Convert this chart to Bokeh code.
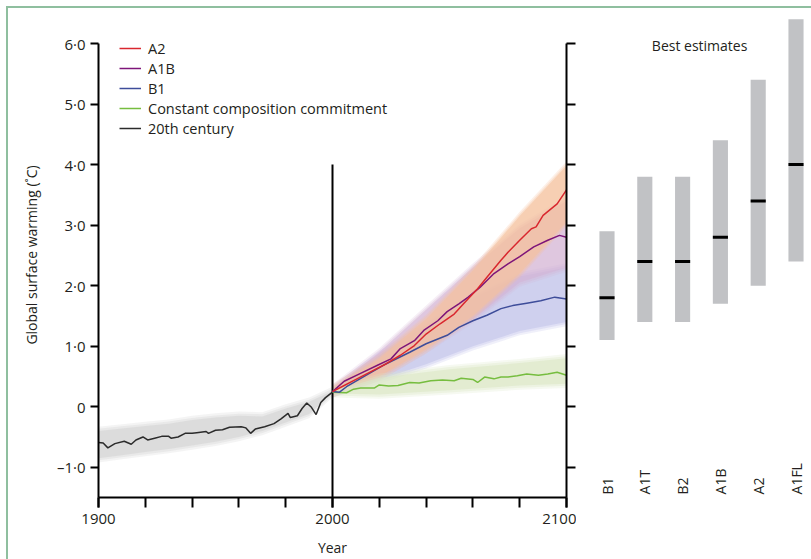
import numpy as np
from bokeh.plotting import figure
from bokeh.layouts import row
from bokeh.models import Range1d, FixedTicker, Legend, LegendItem, Label, LinearAxis
from bokeh.core.properties import value
from bokeh.embed import file_html
from bokeh.resources import INLINE

FONT = "Open Sans"
TEXT = "#231f20"

# ---------------- data ----------------
hist_years = [1900, 1902, 1904, 1907, 1911, 1914, 1916, 1919, 1921, 1924, 1927, 1930,
              1931, 1934, 1937, 1940, 1942, 1946, 1947, 1950, 1953, 1956, 1961, 1963,
              1965, 1967, 1971, 1975, 1978, 1981, 1982, 1985, 1987, 1989, 1991, 1993,
              1995, 1997, 2000]
hist_temp = [-0.59, -0.60, -0.68, -0.61, -0.57, -0.62, -0.55, -0.50, -0.55, -0.52, -0.49, -0.49,
             -0.52, -0.50, -0.44, -0.44, -0.43, -0.41, -0.44, -0.39, -0.38, -0.34, -0.33, -0.35,
             -0.44, -0.37, -0.33, -0.28, -0.20, -0.11, -0.18, -0.15, -0.03, 0.06, -0.01, -0.13,
             0.07, 0.15, 0.24]
hist_band_years = [1900, 1910, 1920, 1930, 1940, 1950, 1960, 1970, 1980, 1990, 2000]
hist_band_low = [-0.85, -0.80, -0.75, -0.70, -0.64, -0.58, -0.50, -0.40, -0.26, -0.12, 0.22]
hist_band_high = [-0.40, -0.36, -0.32, -0.28, -0.22, -0.18, -0.15, -0.16, -0.03, 0.08, 0.26]

a2_years = [2000, 2005, 2009, 2015, 2023, 2029, 2035, 2040, 2046, 2052, 2056, 2062,
            2066, 2072, 2075, 2080, 2085, 2087, 2090, 2096, 2100]
a2_temp = [0.25, 0.35, 0.43, 0.55, 0.71, 0.85, 1.01, 1.20, 1.37, 1.53, 1.70, 1.95,
           2.14, 2.42, 2.55, 2.75, 2.94, 2.97, 3.16, 3.35, 3.58]
a1b_years = [2000, 2005, 2012, 2019, 2025, 2029, 2035, 2039, 2045, 2049, 2054, 2058,
             2063, 2069, 2075, 2080, 2086, 2092, 2097, 2100]
a1b_temp = [0.25, 0.42, 0.55, 0.68, 0.79, 0.96, 1.09, 1.26, 1.42, 1.57, 1.70, 1.81,
            1.97, 2.20, 2.36, 2.48, 2.64, 2.75, 2.83, 2.80]
b1_years = [2000, 2003, 2006, 2013, 2023, 2033, 2040, 2049, 2054, 2060, 2066, 2072,
            2077, 2083, 2089, 2095, 2100]
b1_temp = [0.25, 0.24, 0.33, 0.49, 0.71, 0.90, 1.04, 1.18, 1.31, 1.42, 1.51, 1.62,
           1.67, 1.71, 1.75, 1.81, 1.78]
ccc_years = [2000, 2006, 2009, 2012, 2018, 2020, 2024, 2028, 2033, 2037, 2042, 2047,
             2052, 2055, 2060, 2062, 2065, 2069, 2072, 2075, 2079, 2083, 2088, 2092,
             2096, 2100]
ccc_temp = [0.24, 0.23, 0.29, 0.31, 0.31, 0.36, 0.34, 0.35, 0.40, 0.39, 0.43, 0.44,
            0.43, 0.47, 0.45, 0.40, 0.49, 0.46, 0.49, 0.49, 0.51, 0.54, 0.52, 0.54,
            0.57, 0.52]

band_years = [2000, 2020, 2040, 2060, 2080, 2100]
a2_low = [0.22, 0.50, 0.95, 1.50, 2.20, 3.05]
a2_high = [0.30, 0.80, 1.45, 2.25, 3.15, 3.98]
a1b_low = [0.22, 0.50, 0.95, 1.45, 2.05, 2.30]
a1b_high = [0.30, 0.90, 1.60, 2.30, 2.95, 3.40]
b1_low = [0.22, 0.45, 0.70, 1.00, 1.25, 1.40]
b1_high = [0.28, 0.85, 1.35, 1.80, 2.15, 2.30]
ccc_band_years = [2000, 2020, 2050, 2080, 2100]
ccc_low = [0.22, 0.20, 0.27, 0.35, 0.38]
ccc_high = [0.26, 0.48, 0.62, 0.72, 0.80]

categories = ["B1", "A1T", "B2", "A1B", "A2", "A1FL"]
best_est = [1.8, 2.4, 2.4, 2.8, 3.4, 4.0]
range_low = [1.1, 1.4, 1.4, 1.7, 2.0, 2.4]
range_high = [2.9, 3.8, 3.8, 4.4, 5.4, 6.4]

y_ticks = [-1, 0, 1, 2, 3, 4, 5, 6]
y_tick_labels = ["\u20131\u00b70", "0", "1\u00b70", "2\u00b70", "3\u00b70", "4\u00b70", "5\u00b70", "6\u00b70"]
x_ticks = [1900, 1920, 1940, 1960, 1980, 2000, 2020, 2040, 2060, 2080, 2100]
x_label_years = [1900, 2000, 2100]

# ---------------- layout constants ----------------
Y_MIN, Y_MAX = -1.5, 6.0          # extent of the drawn temperature axis
W1, H = 568, 551
FB_LEFT, FB_RIGHT, FB_TOP, FB_BOTTOM = 90, 10, 4, 62
AXIS_PX = 454                     # pixel length of the -1.5..6.0 axis
PX_PER_UNIT = AXIS_PX / (Y_MAX - Y_MIN)
FRAME_H = H - FB_TOP - FB_BOTTOM
y_end = Y_MIN + FRAME_H / PX_PER_UNIT
shared_y = Range1d(Y_MIN, y_end)

p = figure(width=W1, height=H, x_range=Range1d(1900, 2100), y_range=shared_y,
           output_backend="svg", toolbar_location=None, title_location=None,
           min_border_left=FB_LEFT, min_border_right=FB_RIGHT,
           min_border_top=FB_TOP, min_border_bottom=FB_BOTTOM,
           x_axis_location="below", y_axis_location="left")
p.outline_line_color = None
p.grid.visible = False
p.background_fill_color = None
p.border_fill_color = None


def soft_band(fig, xs, lo, hi, color, alpha):
    # feathered edges: a few translucent layers (style only)
    lo = np.asarray(lo)
    hi = np.asarray(hi)
    for pad, a in ((0.07, alpha * 0.25), (0.035, alpha * 0.35), (0.0, alpha * 0.6)):
        fig.varea(x=xs, y1=lo - pad, y2=hi + pad, fill_color=color, fill_alpha=a)


# bands
soft_band(p, band_years, b1_low, b1_high, "#c3c4ea", 1.0)
soft_band(p, band_years, a1b_low, a1b_high, "#d3b3d3", 0.85)
soft_band(p, band_years, a2_low, a2_high, "#f5c29f", 0.95)
soft_band(p, ccc_band_years, ccc_low, ccc_high, "#dce7c6", 1.0)
soft_band(p, hist_band_years, hist_band_low, hist_band_high, "#d3d3d3", 1.0)

# divider at 2000
divider_year, divider_top = 2000, 4.0
p.segment(x0=[divider_year], y0=[Y_MIN], x1=[divider_year], y1=[divider_top],
          line_color="black", line_width=2)

r_hist = p.line(hist_years, hist_temp, line_color="#2b2b2b", line_width=1.5)
r_ccc = p.line(ccc_years, ccc_temp, line_color="#76bd3f", line_width=1.5)
r_b1 = p.line(b1_years, b1_temp, line_color="#3e4d9a", line_width=1.5)
r_a1b = p.line(a1b_years, a1b_temp, line_color="#7e1579", line_width=1.5)
r_a2 = p.line(a2_years, a2_temp, line_color="#d9272e", line_width=1.5)


def style_axis(ax):
    ax.axis_line_color = "black"
    ax.axis_line_width = 2
    ax.major_tick_line_color = "black"
    ax.major_tick_line_width = 2
    ax.minor_tick_line_color = "black"
    ax.minor_tick_line_width = 2
    ax.major_tick_in = 0
    ax.minor_tick_in = 0
    ax.major_label_text_font = FONT
    ax.major_label_text_font_size = "15px"
    ax.major_label_text_color = TEXT
    ax.axis_label_text_font = FONT
    ax.axis_label_text_font_size = "14px"
    ax.axis_label_text_font_style = "normal"
    ax.axis_label_text_color = TEXT


xa = p.xaxis[0]
style_axis(xa)
xa.ticker = FixedTicker(ticks=x_label_years, minor_ticks=x_ticks)
xa.major_tick_out = 10
xa.minor_tick_out = 10
xa.major_label_standoff = 6
xa.axis_label = "Year"
xa.axis_label_standoff = 11

ya = p.yaxis[0]
style_axis(ya)
ya.ticker = FixedTicker(ticks=y_ticks)
ya.major_label_overrides = dict(zip(y_ticks, y_tick_labels))
ya.bounds = (Y_MIN, Y_MAX)
ya.major_tick_out = 8
ya.minor_tick_line_color = None
ya.major_label_standoff = 5
ya.axis_label = "Global surface warming (\u02daC)"
ya.axis_label_standoff = 13

ra = LinearAxis()
style_axis(ra)
ra.ticker = FixedTicker(ticks=[], minor_ticks=y_ticks)
ra.bounds = (Y_MIN, Y_MAX)
ra.minor_tick_out = 9
ra.major_label_standoff = 0
p.add_layout(ra, "right")

legend = Legend(items=[
    LegendItem(label="A2", renderers=[r_a2]),
    LegendItem(label="A1B", renderers=[r_a1b]),
    LegendItem(label="B1", renderers=[r_b1]),
    LegendItem(label="Constant composition commitment", renderers=[r_ccc]),
    LegendItem(label="20th century", renderers=[r_hist]),
], location=(21, 359))
legend.label_text_font = FONT
legend.label_text_font_size = "14.5px"
legend.label_text_color = TEXT
legend.glyph_width = 22
legend.glyph_height = 20
legend.label_height = 20
legend.label_standoff = 7
legend.spacing = 0
legend.padding = 0
legend.margin = 0
legend.border_line_color = None
legend.background_fill_alpha = 0
p.add_layout(legend)

# ---------------- best estimates panel ----------------
W2 = 811 - 8 - W1
BAR_PITCH = 37.8
first_center_offset = 30.5
x2_start = -first_center_offset / BAR_PITCH
x2_end = x2_start + W2 / BAR_PITCH

idx = list(range(len(categories)))
p2 = figure(width=W2, height=H, x_range=Range1d(x2_start, x2_end), y_range=shared_y,
            output_backend="svg", toolbar_location=None, title_location=None,
            min_border_left=0, min_border_right=0, min_border_top=FB_TOP, min_border_bottom=FB_BOTTOM,
            x_axis_location=None, y_axis_location=None)
p2.outline_line_color = None
p2.grid.visible = False
p2.background_fill_color = None
p2.border_fill_color = None

p2.vbar(x=idx, bottom=range_low, top=range_high, width=0.4, fill_color="#c1c2c5", line_color=None)
p2.rect(x=idx, y=best_est, width=0.4, height=3, height_units="screen", fill_color="black", line_color=None)
p2.text(x=idx, y=[Y_MIN + 0.05] * len(idx), text=categories, angle=np.pi / 2,
        text_align="left", text_baseline="middle", text_font=value(FONT),
        text_font_size=value("14px"), text_color=TEXT)
p2.add_layout(Label(x=2.45, y=5.96, text="Best estimates", text_align="center",
                    text_baseline="middle", text_font=FONT, text_font_size="14px",
                    text_color=TEXT))

layout = row(p, p2, margin=(6, 0, 0, 6),
             styles={"border-top": "2px solid #8fbf9f", "border-left": "2px solid #8fbf9f"})

open("out.html", "w").write(file_html(layout, INLINE))
